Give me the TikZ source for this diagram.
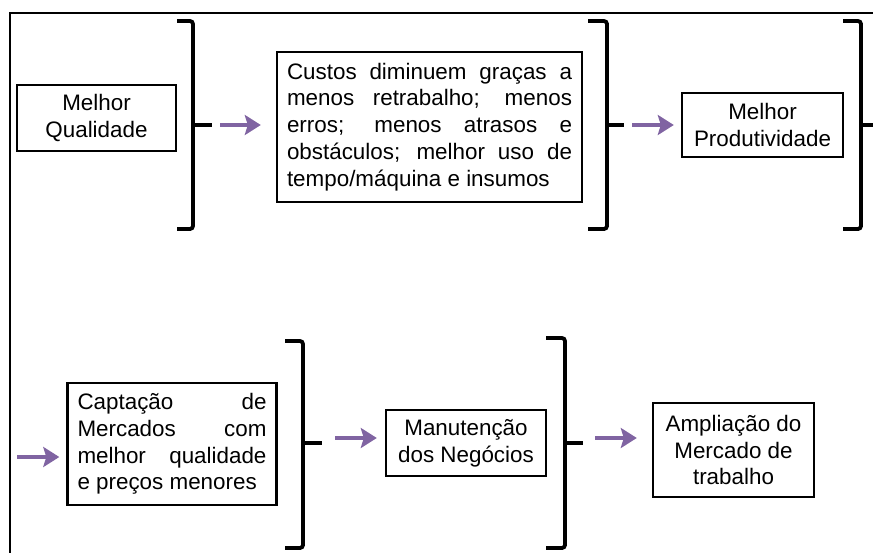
\documentclass[tikz,border=0pt]{standalone}
\usepackage{fontspec}
\setmainfont{Liberation Sans}
\usetikzlibrary{arrows.meta}
\definecolor{roxo}{RGB}{128,100,162}

\tikzset{
  caixa/.style={draw, line width=1.2pt, inner sep=0pt, align=center,
    font=\fontsize{11.2}{13.4}\selectfont},
  bloco/.style={caixa, align=justify, inner xsep=5pt,
    execute at begin node={\tolerance=10000\hyphenpenalty=10000\hbadness=10000}},
  chave/.style={line width=1.9pt, rounded corners=1.5pt},
  seta/.style={draw=roxo, line width=2pt, -{Stealth[length=8pt,width=10pt,inset=1.5pt]}},
}

\begin{document}
\begin{tikzpicture}[x=0.5pt, y=-0.5pt]

\useasboundingbox (0,0) rectangle (873,552);
\clip (0,0) rectangle (873,552);

% Moldura
\draw[line width=1pt] (10,13) rectangle (900,600);

% Caixas da primeira linha
\node[caixa, minimum width=79.5pt, minimum height=33pt] (qual) at (96.5,118) {Melhor\\Qualidade};
\node[bloco, text width=142.5pt, minimum height=75pt] (custos) at (429.5,127)
  {Custos diminuem graças a\linebreak menos retrabalho; menos\linebreak erros; menos atrasos e\linebreak obstáculos; melhor uso de\linebreak tempo/máquina e insumos};
\node[caixa, minimum width=80.5pt, minimum height=32pt] (prod) at (762.5,125) {Melhor\\Produtividade};

% Caixas da segunda linha
\node[bloco, text width=94.5pt, minimum height=61pt] (capt) at (172,444)
  {Captação de\linebreak Mercados com\linebreak melhor qualidade\linebreak e preços menores};
\node[caixa, minimum width=80pt, minimum height=33pt] (manut) at (466,443) {Manutenção\\dos Negócios};
\node[caixa, minimum width=80.5pt, minimum height=47pt] (ampl) at (733.5,450) {Ampliação do\\Mercado de\\trabalho};

% Chaves da primeira linha
\draw[chave] (177,21) -- (193,21) -- (193,229) -- (177,229);
\draw[chave] (193,125) -- (212,125) coordinate (t1);
\draw[chave] (588,21) -- (607,21) -- (607,229) -- (588,229);
\draw[chave] (607,125) -- (624,125) coordinate (t2);
\draw[chave] (843,21) -- (861,21) -- (861,229) -- (843,229);
\draw[chave] (861,125) -- (890,125);

% Chaves da segunda linha
\draw[chave] (285,341) -- (303,341) -- (303,548) -- (285,548);
\draw[chave] (303,443) -- (322,443) coordinate (t4);
\draw[chave] (546,338) -- (565,338) -- (565,548) -- (546,548);
\draw[chave] (565,443) -- (583,443) coordinate (t5);

% Setas
\coordinate (e4) at (17,457);
\draw[seta, shorten <=4pt, shorten >=7.5pt] (t1) -- (t1 -| custos.west);
\draw[seta, shorten <=4pt, shorten >=3.5pt] (t2) -- (t2 -| prod.west);
\draw[seta, shorten >=3.5pt] (e4) -- (e4 -| capt.west);
\draw[seta, shorten <=6.5pt, shorten >=4pt] ([yshift=2.5pt]t4) -- ([yshift=2.5pt]t4 -| manut.west);
\draw[seta, shorten <=6pt, shorten >=7.5pt] ([yshift=2.5pt]t5) -- ([yshift=2.5pt]t5 -| ampl.west);

\end{tikzpicture}
\end{document}
